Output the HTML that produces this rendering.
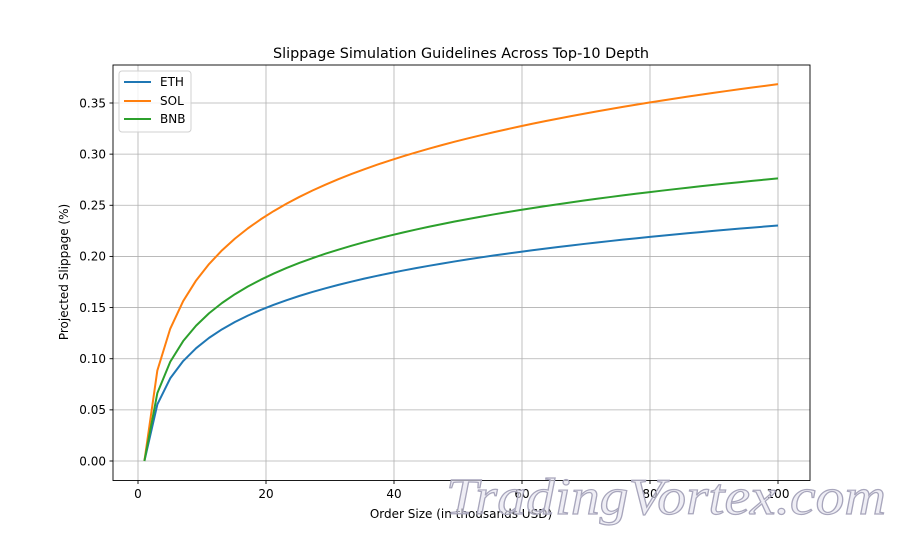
<!DOCTYPE html>
<html><head><meta charset="utf-8"><style>
html,body{margin:0;padding:0;background:#fff;}
svg text{font-family:"DejaVu Sans","Liberation Sans",sans-serif;}
</style></head><body>
<svg id="s" width="900" height="540" xmlns="http://www.w3.org/2000/svg">
<rect width="900" height="540" fill="#fff"/>
<g id="grid" stroke="#b0b0b0" stroke-width="0.8"></g>
<g id="lines" fill="none" stroke-width="2" stroke-linejoin="round"></g>
<rect x="113" y="65" width="697" height="415.5" fill="none" stroke="#000" stroke-width="0.9"/>
<g id="ticks" stroke="#000" stroke-width="0.9"></g>
<g id="labels" font-size="12" fill="#000"></g>
<text x="461" y="58" font-size="14.4" text-anchor="middle">Slippage Simulation Guidelines Across Top-10 Depth</text>
<text x="461" y="518" font-size="12" text-anchor="middle">Order Size (in thousands USD)</text>
<text transform="translate(68,272) rotate(-90)" font-size="12" text-anchor="middle">Projected Slippage (%)</text>
<g>
<rect x="119" y="71" width="72" height="61" rx="3" fill="#fff" fill-opacity="0.8" stroke="#d0d0d0"/>
<line x1="124" y1="82" x2="151" y2="82" stroke="#1f77b4" stroke-width="2"/>
<line x1="124" y1="101" x2="151" y2="101" stroke="#ff7f0e" stroke-width="2"/>
<line x1="124" y1="119" x2="151" y2="119" stroke="#2ca02c" stroke-width="2"/>
<text x="160" y="86" font-size="12">ETH</text>
<text x="160" y="105" font-size="12">SOL</text>
<text x="160" y="123" font-size="12">BNB</text>
</g>
<text x="446" y="514" style="font-family:'Liberation Serif',serif" font-style="italic" font-size="52" fill="#e4e2ee" fill-opacity="0.6" stroke="#a8a6bc" stroke-width="1.2" textLength="440" lengthAdjust="spacingAndGlyphs">TradingVortex.com</text>
</svg>
<script>
var NS="http://www.w3.org/2000/svg";
function X(v){return 138+v*6.4;}
function Y(v){return 461-v*1022.86;}
function el(p,t,a,txt){var e=document.createElementNS(NS,t);for(var k in a)e.setAttribute(k,a[k]);if(txt!=null)e.textContent=txt;document.getElementById(p).appendChild(e);}
for(var i=0;i<=100;i+=20){el("grid","line",{x1:X(i),x2:X(i),y1:65,y2:480.5});el("ticks","line",{x1:X(i),x2:X(i),y1:480.5,y2:484});el("labels","text",{x:X(i),y:498,"text-anchor":"middle"},String(i));}
for(var j=0;j<=7;j++){var v=j*0.05;el("grid","line",{x1:113,x2:810,y1:Y(v),y2:Y(v)});el("ticks","line",{x1:109.5,x2:113,y1:Y(v),y2:Y(v)});el("labels","text",{x:106,y:Y(v)+4.3,"text-anchor":"end"},v.toFixed(2));}
[[0.05,"#1f77b4"],[0.08,"#ff7f0e"],[0.06,"#2ca02c"]].forEach(function(s){var p=[];for(var k=0;k<50;k++){var x=1+k*99/49;p.push(X(x).toFixed(2)+","+Y(s[0]*Math.log(x)).toFixed(2));}el("lines","polyline",{points:p.join(" "),stroke:s[1]});});
</script>
</body></html>
